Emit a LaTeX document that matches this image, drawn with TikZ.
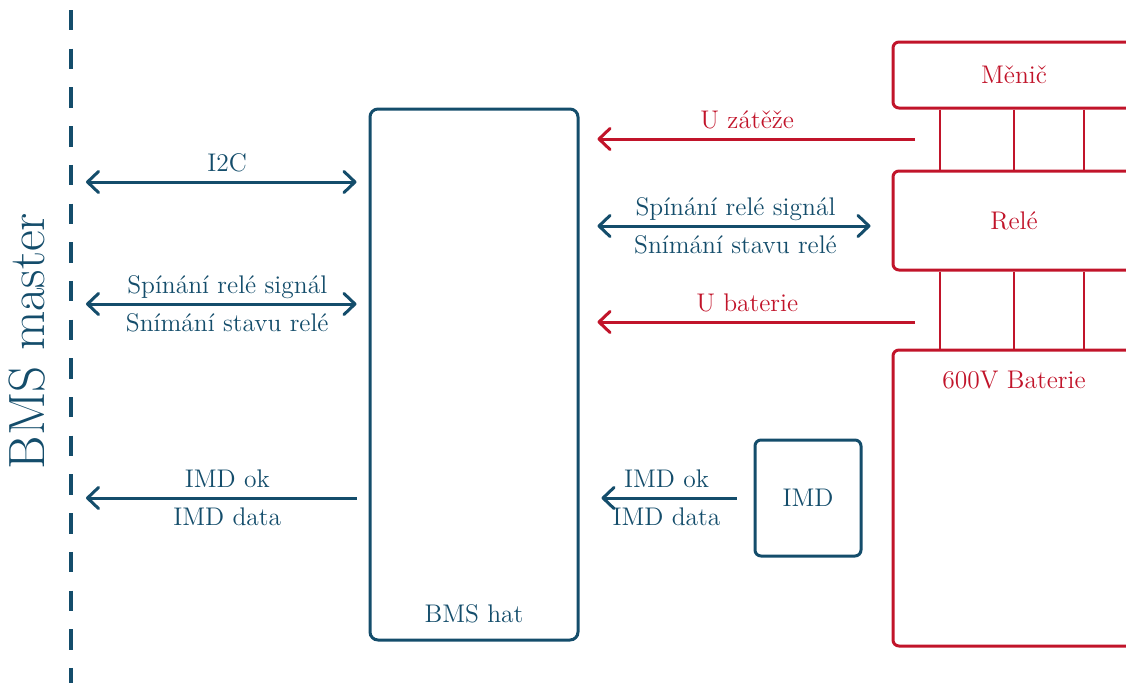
\documentclass[tikz,border=0pt]{standalone}
\usetikzlibrary{arrows.meta}
\definecolor{hatblue}{RGB}{20,77,107}
\definecolor{hvred}{RGB}{193,20,42}
\begin{document}
\begin{tikzpicture}[x=0.5pt,y=-0.5pt,
  font=\fontsize{12.75}{15}\selectfont,
  tip/.tip={Straight Barb[length=5.5pt,width=10.5pt,round]},
  blk/.style={draw=hatblue,line width=1.5pt,rounded corners=4pt,text=hatblue},
  rblk/.style={draw=hvred,line width=1.5pt,rounded corners=3pt,text=hvred},
  barrow/.style={draw=hatblue,line width=1.5pt},
  rarrow/.style={draw=hvred,line width=1.5pt},
  labup/.style={anchor=base,yshift=5.5pt},
  labdown/.style={anchor=base,yshift=-13.5pt},
  tie/.style={draw=hvred,line width=1.3pt}]
\useasboundingbox (0,0) rectangle (1126,682);
\clip (0,0) rectangle (1126,682);

% master bus
\coordinate (mtop) at (71,10);
\coordinate (mbot) at (71,700);
\draw[hatblue,line width=2.25pt,dash pattern=on 10.2pt off 9.15pt] (mtop) -- (mbot);
\node[text=hatblue,rotate=90,anchor=base,font=\fontsize{25.5}{30}\selectfont] (master) at (45,341) {BMS master};

% blocks
\node[blk,minimum width=104pt,minimum height=265.5pt] (hat) at (474,374.5) {};
\node[text=hatblue,anchor=base] (hatlabel) at (474,622) {BMS hat};
\node[blk,rounded corners=3pt,minimum width=53pt,minimum height=58pt] (imd) at (808,498) {IMD};
\node[rblk,minimum width=121pt,minimum height=33pt] (menic) at (1014,75) {Měnič};
\node[rblk,minimum width=121pt,minimum height=49.5pt] (rele) at (1014,220.5) {Relé};
\node[rblk,minimum width=121pt,minimum height=148pt] (bat) at (1014,498) {};
\node[text=hvred,anchor=base] (batlabel) at (1014,388) {600V Baterie};

% power ties between the red blocks
\coordinate (t1) at (940,0);
\coordinate (t2) at (1014,0);
\coordinate (t3) at (1084,0);
\foreach \t in {t1,t2,t3} {
  \draw[tie] (\t |- menic.south) -- (\t |- rele.north);
  \draw[tie] (\t |- rele.south) -- (\t |- bat.north);
}

% master side
\coordinate (mi2c) at (86,182);
\coordinate (mrel) at (86,304);
\coordinate (mimd) at (86,498);
\draw[barrow,{tip}-{tip},shorten >=6pt] (mi2c) -- (hat.west |- mi2c)
  node[midway,labup,text=hatblue] {I2C};
\draw[barrow,{tip}-{tip},shorten >=6pt] (mrel) -- (hat.west |- mrel)
  node[midway,labup,text=hatblue] {Spínání relé signál}
  node[midway,labdown,text=hatblue] {Snímání stavu relé};
\draw[barrow,-{tip},shorten <=6pt] (hat.west |- mimd) -- (mimd)
  node[midway,labup,text=hatblue] {IMD ok}
  node[midway,labdown,text=hatblue] {IMD data};

% high-voltage side
\coordinate (uz) at (915,139);
\coordinate (ub) at (915,322);
\coordinate (rs) at (0,226);
\draw[rarrow,-{tip},shorten >=9pt] (uz) -- (hat.east |- uz)
  node[midway,labup,text=hvred] {U zátěže};
\draw[barrow,{tip}-{tip},shorten <=9pt,shorten >=10.5pt] (hat.east |- rs) -- (rele.west |- rs)
  node[midway,labup,text=hatblue] {Spínání relé signál}
  node[midway,labdown,text=hatblue] {Snímání stavu relé};
\draw[rarrow,-{tip},shorten >=9pt] (ub) -- (hat.east |- ub)
  node[midway,labup,text=hvred] {U baterie};
\draw[barrow,-{tip},shorten <=8.5pt,shorten >=11pt] (imd.west) -- (hat.east |- imd.west)
  node[midway,labup,text=hatblue] {IMD ok}
  node[midway,labdown,text=hatblue] {IMD data};
\end{tikzpicture}
\end{document}
